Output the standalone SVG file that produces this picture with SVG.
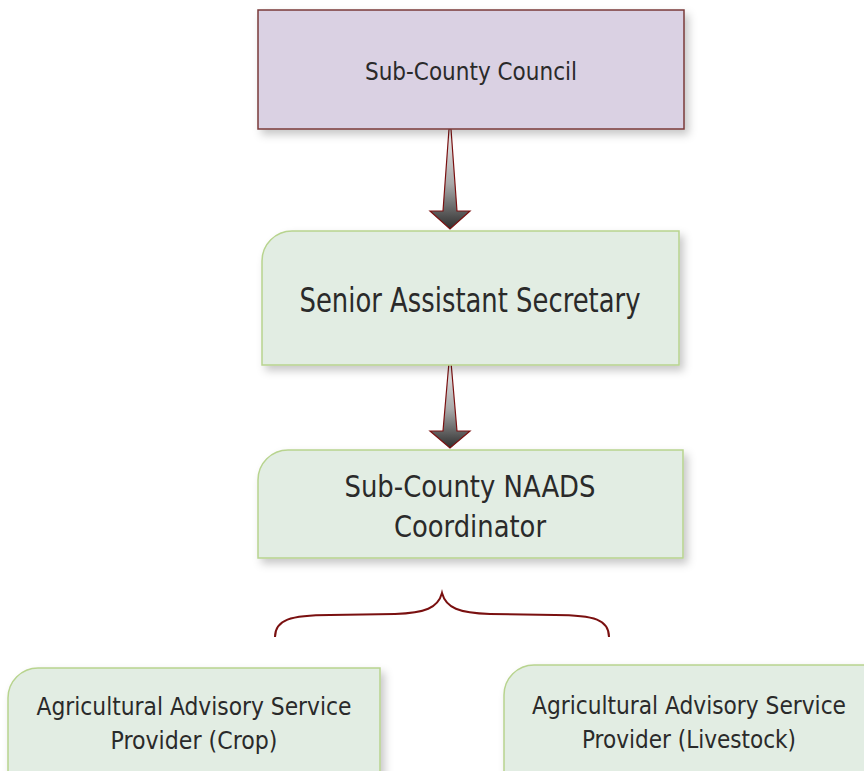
<svg xmlns="http://www.w3.org/2000/svg" width="864" height="771" viewBox="0 0 864 771">
<defs>
<filter id="sh" x="-10%" y="-10%" width="125%" height="130%">
<feDropShadow dx="4" dy="5" stdDeviation="4" flood-color="#000" flood-opacity="0.22"/>
</filter>
<linearGradient id="ag" x1="0" y1="0" x2="0" y2="1">
<stop offset="0" stop-color="#f2f2f2"/>
<stop offset="0.55" stop-color="#a8a8a8"/>
<stop offset="1" stop-color="#2e2e2e"/>
</linearGradient>
<style>
.txt{font-family:"Liberation Sans Narrow","DejaVu Sans Condensed","Liberation Sans",sans-serif;fill:#2a2a2a;text-anchor:middle}
.green{fill:#e2ede3;stroke:#b8d48f;stroke-width:1.5}
.purple{fill:#dad1e3;stroke:#7a3a3a;stroke-width:1.5}
.arrow{fill:url(#ag);stroke:#7a1010;stroke-width:1.2;stroke-linejoin:miter}
.brace{fill:none;stroke:#7a1010;stroke-width:2}
</style>
</defs>
<rect width="864" height="771" fill="#ffffff"/>
<g id="connectors">
<polygon class="arrow" points="449,129 451,129 457,211 470,211 450,229 430,211 443,211"/>
<polygon class="arrow" points="449,362 451,362 457,431 470,431 450,448 430,431 443,431"/>
<path class="brace" d="M275,637 C275,620 290,615 330,615 L395,614 C425,613 438,608 442,593 C446,608 459,613 490,614 L555,615 C595,615 609,620 609,637"/>
</g>
<g id="node-council">
<rect class="purple" x="258" y="10" width="426" height="119" filter="url(#sh)"/>
<text class="txt" x="471" y="80" font-size="25" textLength="212" lengthAdjust="spacingAndGlyphs">Sub-County Council</text>
</g>
<g id="node-secretary">
<path class="green" d="M292,231 H679 V365 H262 V261 A30,30 0 0 1 292,231 Z" filter="url(#sh)"/>
<text class="txt" x="470" y="312" font-size="34" textLength="341" lengthAdjust="spacingAndGlyphs">Senior Assistant Secretary</text>
</g>
<g id="node-coordinator">
<path class="green" d="M288,450 H683 V558 H258 V480 A30,30 0 0 1 288,450 Z" filter="url(#sh)"/>
<text class="txt" x="470" y="497" font-size="31" textLength="251" lengthAdjust="spacingAndGlyphs">Sub-County NAADS</text>
<text class="txt" x="470" y="537" font-size="31" textLength="152" lengthAdjust="spacingAndGlyphs">Coordinator</text>
</g>
<g id="node-crop">
<path class="green" d="M38,668 H380 V790 H8 V698 A30,30 0 0 1 38,668 Z" filter="url(#sh)"/>
<text class="txt" x="194" y="715" font-size="24" textLength="315" lengthAdjust="spacingAndGlyphs">Agricultural Advisory Service</text>
<text class="txt" x="194" y="749" font-size="24" textLength="167" lengthAdjust="spacingAndGlyphs">Provider (Crop)</text>
</g>
<g id="node-livestock">
<path class="green" d="M534,665 H880 V790 H504 V695 A30,30 0 0 1 534,665 Z" filter="url(#sh)"/>
<text class="txt" x="689" y="714" font-size="24" textLength="314" lengthAdjust="spacingAndGlyphs">Agricultural Advisory Service</text>
<text class="txt" x="689" y="748" font-size="24" textLength="214" lengthAdjust="spacingAndGlyphs">Provider (Livestock)</text>
</g>
</svg>
